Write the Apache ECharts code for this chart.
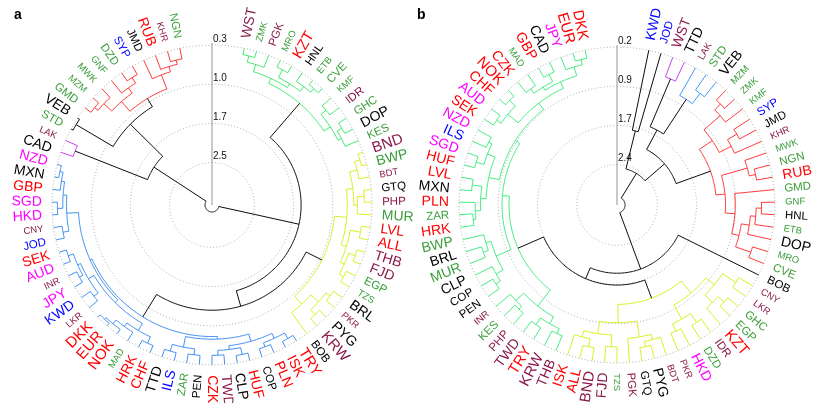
<!DOCTYPE html>
<html>
<head>
<meta charset="utf-8">
<script src="https://cdn.jsdelivr.net/npm/echarts@6/dist/echarts.min.js"></script>
<style>
  html, body { margin: 0; padding: 0; background: #fff; }
  #main { width: 822px; height: 403px; }
</style>
</head>
<body>
<div id="main"></div>
<script>
// axis ticks of each panel (height units)
const tickValsA = [0.28, 1.01, 1.74, 2.47];
const tickLabelsA = ['0.3', '1.0', '1.7', '2.5'];
const tickValsB = [0.2, 0.93, 1.66, 2.39];
const tickLabelsB = ['0.2', '0.9', '1.7', '2.4'];
const leafHA = 0.28, leafHB = 0.2;
const topA = 3.26, topB = 3.14;

// panel a: merges written as [height, left, right]
const greenA = [0.76,
  [0.66, [0.52, [0.40, 'WST', 'ZMK'], 'PGK'], [0.58, [0.42, 'MRO', 'KZT'], [0.47, 'HNL', [0.38, 'ETB', 'CVE']]]],
  [0.62, [0.50, 'KMF', 'IDR'], [0.55, [0.45, 'GHC', 'DOP'], 'KES']]];
const yellowA = [0.97,
  [0.74, [0.62, [0.48, [0.38, 'BND', 'BWP'], 'BDT'], [0.55, [0.42, 'GTQ', 'PHP'], 'MUR']],
         [0.64, [0.45, 'LVL', 'ALL'], [0.56, [0.43, 'THB', 'FJD'], [0.47, 'EGP', 'TZS']]]],
  [0.77, [0.58, [0.48, 'BRL', 'PKR'], [0.46, 'PYG', 'KRW']], 'BOB']];
const blueA = [0.81,
  [0.76, [0.62, [0.52, [0.40, 'TRY', 'ISK'], [0.44, 'PLN', 'COP']], [0.55, [0.42, 'HUF', 'CLP'], [0.46, 'TWD', 'CZK']]],
         [0.56, [0.45, 'PEN', 'ZAR'], [0.43, 'ILS', 'TTD']]],
  [0.77, [0.70, [0.55, [0.42, 'CHF', 'HRK'], [0.47, 'MAD', [0.38, 'NOK', [0.34, 'EUR', 'DKK']]]],
                [0.58, [0.48, 'LKR', 'KWD'], [0.52, [0.45, 'JPY', 'INR'], [0.42, 'AUD', 'SEK']]]],
         [0.55, [0.44, 'JOD', 'CNY'], [0.48, [0.38, 'HKD', 'SGD'], [0.42, 'GBP', [0.36, 'MXN', 'NZD']]]]]];
const redA = [0.94,
  [0.70, [0.50, [0.42, 'GMD', 'MZM'], 'MWK'], [0.58, 'GNF', [0.46, 'DZD', 'SYP']]],
  [0.66, 'JMD', [0.56, 'RUB', [0.48, 'KHR', 'NGN']]]];
const purpleA = [0.52, 'CAD', 'LAK'];
const pairA = [0.32, 'STD', 'VEB'];
const treeA = [3.13, [1.60, greenA, [1.30, yellowA, blueA]], [1.97, purpleA, [1.12, pairA, redA]]];

// panel b
const pairB = [1.72, 'KWD', 'JOD'];
const purpleB = [0.59, 'WST', 'TTD'];
const blueB = [0.79, 'LAK', [0.55, 'STD', 'VEB']];
const redB = [1.29,
  [1.0, [0.60, [0.45, 'MZM', 'ZMK'], 'KMF'], [0.75, [0.55, 'SYP', 'JMD'], 'KHR']],
  [1.12, [0.62, 'MWK', [0.50, 'NGN', 'RUB']],
         [0.94, 'GMD', [0.80, [0.65, [0.55, [0.45, 'GNF', 'HNL'], 'ETB'], 'DOP'], [0.50, 'MRO', 'CVE']]]]];
const yellowB = [1.29,
  [1.0, [0.8, [0.5, 'CNY', 'LKR'], [0.6, [0.45, 'GHC', 'EGP'], 'KZT']], [0.7, [0.5, 'IDR', 'DZD'], [0.55, 'HKD', 'PKR']]],
  [0.95, [0.65, [0.55, 'BDT', [0.45, 'PYG', 'GTQ']], 'PGK'], [0.72, [0.5, 'TZS', 'FJD'], [0.6, [0.45, 'BND', 'ALL'], 'ISK']]]];
const greenB = [1.13,
  [0.75, [0.6, [0.5, 'THB', 'KRW'], [0.45, 'TRY', 'TWD']], [0.55, [0.48, 'PHP', 'KES'], 'INR']],
  [1.0, [0.7, [0.55, [0.45, 'PEN', 'COP'], 'CLP'], [0.6, [0.5, 'MUR', 'BRL'], 'BWP']],
        [0.9, [0.7, [0.6, [0.5, [0.45, 'HRK', 'ZAR'], 'PLN'], [0.42, 'MXN', 'LVL']], [0.55, [0.4, 'HUF', 'SGD'], [0.48, 'ILS', 'NZD']]],
              [0.75, [0.5, [0.4, 'SEK', 'AUD'], [0.35, 'CHF', 'NOK']],
                     [0.62, [0.55, [0.45, 'CZK', 'MAD'], [0.4, 'GBP', 'CAD']], [0.45, 'JPY', [0.35, 'EUR', 'DKK']]]]]]];
const treeB = [2.99, [2.45, pairB, [1.97, [1.56, purpleB, blueB], redB]], [1.87, 'BOB', [1.65, yellowB, greenB]]];

// label colours and sizes
const redCodes = ['KZT','LVL','ALL','TRY','ISK','PLN','HUF','CZK','CHF','HRK','NOK','EUR','DKK','SEK','GBP','RUB'];
const maroonCodes = ['WST','PGK','IDR','BND','BDT','PHP','THB','FJD','PKR','KRW','TWD','LKR','INR','CNY','LAK','KHR'];
const greenCodes = ['ZMK','MRO','ETB','CVE','KMF','GHC','KES','BWP','MUR','EGP','TZS','ZAR','MAD','STD','GMD','MZM','MWK','GNF','DZD','NGN'];
const blueCodes = ['ILS','KWD','JOD','SYP'];
const magentaCodes = ['JPY','AUD','HKD','SGD','NZD'];
const smallCodes = ['ZMK','MRO','ETB','KMF','BDT','TZS','PKR','MAD','LKR','INR','CNY','LAK','MZM','MWK','GNF','KHR'];
const mediumCodes = ['PGK','HNL','CVE','IDR','GHC','KES','GTQ','PHP','EGP','BOB','COP','PEN','ZAR','JOD','STD','GMD','DZD','SYP','JMD','NGN'];
const bigCodes = ['BND','KRW','TRY','KZT','NOK','EUR','DKK'];

function labelColor(c) {
  if (redCodes.includes(c)) return '#FF0000';
  if (maroonCodes.includes(c)) return '#8B1A4A';
  if (greenCodes.includes(c)) return '#3A9E3A';
  if (blueCodes.includes(c)) return '#0000FF';
  if (magentaCodes.includes(c)) return '#FF00FF';
  return '#000000';
}
function labelSize(c) {
  if (smallCodes.includes(c)) return 9.5;
  if (mediumCodes.includes(c)) return 11.5;
  if (bigCodes.includes(c)) return 15;
  return 14;
}

const branchColors = new Map([
  [greenA, '#3EE868'], [yellowA, '#D8EE1C'], [blueA, '#3B8CF0'], [redA, '#FF3030'], [purpleA, '#C43CF0'],
  [greenB, '#3DEB7D'], [yellowB, '#D8EE1C'], [blueB, '#3A8FF5'], [redB, '#FF3030'], [purpleB, '#C43CF0']
]);

function layout(tree, leafH) {
  const nodes = [], leaves = [];
  function walk(t, color) {
    if (typeof t === 'string') {
      leaves.push(t);
      return { h: leafH, a: leaves.length - 1 };
    }
    const c = branchColors.has(t) ? branchColors.get(t) : color;
    const kids = [walk(t[1], c), walk(t[2], c)];
    const node = { h: t[0], a: (kids[0].a + kids[1].a) / 2, kids: kids, color: c };
    nodes.push(node);
    return node;
  }
  walk(tree, '#000000');
  return { nodes, leaves };
}

const A = layout(treeA, leafHA);
const B = layout(treeB, leafHB);
const AMIN = -2.55, AMAX = 76.55;
const FONT = '"Liberation Sans", Arial, sans-serif';

function treeSeries(polarIndex, nodes) {
  return {
    type: 'custom', coordinateSystem: 'polar', polarIndex: polarIndex, silent: true,
    data: nodes.map(n => [n.h, n.a]),
    renderItem: function (params, api) {
      const n = nodes[params.dataIndex];
      const a0 = n.kids[0].a, a1 = n.kids[1].a;
      const steps = Math.max(2, Math.ceil((a1 - a0) * 4));
      const arc = [];
      for (let k = 0; k <= steps; k++) arc.push(api.coord([n.h, a0 + (a1 - a0) * k / steps]));
      const style = { stroke: n.color, lineWidth: 0.95, fill: null };
      const children = [{ type: 'polyline', shape: { points: arc }, style: style }];
      n.kids.forEach(k => {
        const p = api.coord([n.h, k.a]), q = api.coord([k.h, k.a]);
        children.push({ type: 'line', shape: { x1: p[0], y1: p[1], x2: q[0], y2: q[1] }, style: style });
      });
      return { type: 'group', children: children };
    }
  };
}

function labelSeries(polarIndex, leaves, labelH) {
  return {
    type: 'custom', coordinateSystem: 'polar', polarIndex: polarIndex, silent: true,
    data: leaves.map((c, i) => [labelH, i]),
    renderItem: function (params, api) {
      const code = leaves[params.dataIndex];
      const p = api.coord([labelH, params.dataIndex]);
      const cs = params.coordSys;
      const ang = Math.atan2(p[1] - cs.cy, p[0] - cs.cx);
      const right = p[0] >= cs.cx - 0.01;
      return {
        type: 'text', x: p[0], y: p[1],
        rotation: right ? -ang : Math.PI - ang,
        style: {
          text: code, fill: labelColor(code), fontSize: labelSize(code), fontFamily: FONT,
          align: right ? 'left' : 'right', verticalAlign: 'middle'
        }
      };
    }
  };
}

function axisSeries(polarIndex, vals, labels, top) {
  return {
    type: 'custom', coordinateSystem: 'polar', polarIndex: polarIndex, silent: true,
    data: vals.map(v => [v, AMIN]),
    renderItem: function (params, api) {
      const v = vals[params.dataIndex];
      const pts = [];
      for (let k = 0; k <= 240; k++) pts.push(api.coord([v, AMIN + (AMAX - AMIN) * k / 240]));
      const p = api.coord([v, AMIN]);
      const children = [
        { type: 'polyline', shape: { points: pts }, style: { stroke: '#a8a8a8', lineWidth: 0.9, lineDash: [1, 2.2], fill: null } },
        { type: 'text', x: p[0] + 1, y: p[1] - 1, style: { text: labels[params.dataIndex], fill: '#111', fontSize: 10, fontFamily: FONT, align: 'left', verticalAlign: 'bottom' } }
      ];
      if (params.dataIndex === 0) {
        const c = api.coord([top, AMIN]), e = api.coord([v - 0.04, AMIN]);
        children.push({ type: 'line', shape: { x1: c[0], y1: c[1], x2: e[0], y2: e[1] }, style: { stroke: '#bdbdbd', lineWidth: 1.6 } });
      }
      return { type: 'group', children: children };
    }
  };
}

const chart = echarts.init(document.getElementById('main'), null, { renderer: 'canvas' });
chart.setOption({
  animation: false,
  backgroundColor: '#ffffff',
  graphic: [
    { type: 'text', left: 14, top: 8, style: { text: 'a', fontSize: 14, fontWeight: 'bold', fontFamily: FONT, fill: '#000' } },
    { type: 'text', left: 417, top: 8, style: { text: 'b', fontSize: 14, fontWeight: 'bold', fontFamily: FONT, fill: '#000' } }
  ],
  polar: [
    { center: [212, 205], radius: 175 },
    { center: [617, 205], radius: 168.7 }
  ],
  angleAxis: [
    { polarIndex: 0, type: 'value', min: AMIN, max: AMAX, startAngle: 90, clockwise: true, show: false },
    { polarIndex: 1, type: 'value', min: AMIN, max: AMAX, startAngle: 90, clockwise: true, show: false }
  ],
  radiusAxis: [
    { polarIndex: 0, type: 'value', min: 0, max: topA, inverse: true, show: false },
    { polarIndex: 1, type: 'value', min: 0, max: topB, inverse: true, show: false }
  ],
  series: [
    axisSeries(0, tickValsA, tickLabelsA, topA),
    axisSeries(1, tickValsB, tickLabelsB, topB),
    treeSeries(0, A.nodes),
    treeSeries(1, B.nodes),
    labelSeries(0, A.leaves, leafHA - 0.19),
    labelSeries(1, B.leaves, leafHB - 0.19)
  ]
});
</script>
</body>
</html>
